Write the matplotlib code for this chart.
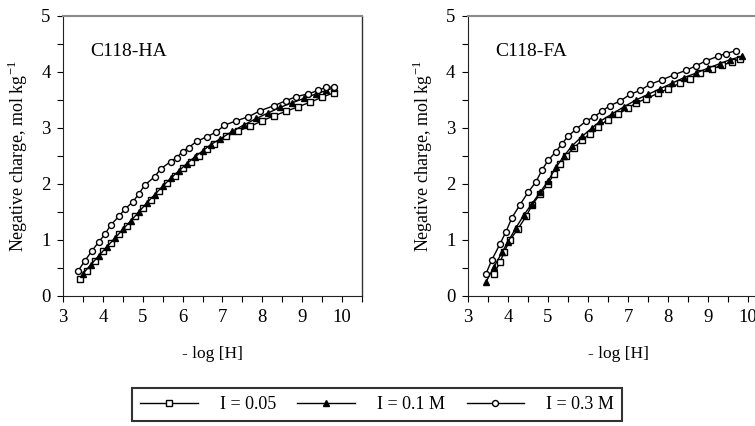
import matplotlib
matplotlib.use("Agg")
import matplotlib.pyplot as plt
from matplotlib.ticker import MultipleLocator
from matplotlib.lines import Line2D

plt.rcParams['font.family'] = ['Liberation Serif', 'DejaVu Serif']
plt.rcParams['mathtext.fontset'] = 'custom'
plt.rcParams['mathtext.rm'] = 'Liberation Serif'

# ---- C118-HA ----
ha_x_005 = [3.42, 3.6, 3.8, 4.0, 4.2, 4.4, 4.6, 4.8, 5.0, 5.2, 5.4, 5.6, 5.8, 6.0, 6.2, 6.4, 6.6, 6.8,
            7.1, 7.4, 7.7, 8.0, 8.3, 8.6, 8.9, 9.2, 9.5, 9.8]
ha_y_005 = [0.30, 0.45, 0.62, 0.80, 0.95, 1.10, 1.25, 1.42, 1.57, 1.72, 1.87, 2.02, 2.15, 2.28, 2.40, 2.50,
            2.62, 2.72, 2.85, 2.95, 3.03, 3.13, 3.22, 3.30, 3.38, 3.46, 3.55, 3.63]
ha_x_01 = [3.5, 3.7, 3.9, 4.1, 4.3, 4.5, 4.7, 4.9, 5.1, 5.3, 5.5, 5.7, 5.9, 6.1, 6.3, 6.5, 6.7, 6.95,
           7.25, 7.55, 7.85, 8.15, 8.45, 8.75, 9.05, 9.35, 9.6, 9.8]
ha_y_01 = [0.40, 0.56, 0.72, 0.88, 1.03, 1.19, 1.34, 1.50, 1.66, 1.81, 1.96, 2.10, 2.23, 2.36, 2.48, 2.59,
           2.70, 2.81, 2.94, 3.06, 3.17, 3.27, 3.37, 3.45, 3.53, 3.61, 3.67, 3.72]
ha_x_03 = [3.38, 3.55, 3.72, 3.9, 4.05, 4.2, 4.4, 4.55, 4.75, 4.9, 5.05, 5.3, 5.45, 5.7, 5.85, 6.0,
           6.15, 6.35, 6.6, 6.85, 7.05, 7.35, 7.65, 7.95, 8.3, 8.6, 8.85, 9.15, 9.4, 9.6, 9.8]
ha_y_03 = [0.45, 0.63, 0.80, 0.97, 1.10, 1.27, 1.42, 1.55, 1.68, 1.82, 1.98, 2.13, 2.27, 2.40, 2.47, 2.58,
           2.65, 2.76, 2.84, 2.93, 3.05, 3.13, 3.20, 3.31, 3.40, 3.49, 3.56, 3.61, 3.67, 3.73, 3.73]

# ---- C118-FA ----
fa_x_005 = [3.65, 3.8, 3.9, 4.05, 4.25, 4.45, 4.6, 4.8, 5.0, 5.15, 5.3, 5.45, 5.65, 5.85, 6.05, 6.25,
            6.5, 6.75, 7.0, 7.2, 7.45, 7.75, 8.0, 8.3, 8.55, 8.8, 9.1, 9.35, 9.6, 9.8]
fa_y_005 = [0.40, 0.60, 0.78, 1.00, 1.20, 1.42, 1.62, 1.82, 2.00, 2.18, 2.35, 2.50, 2.65, 2.78, 2.90, 3.02,
            3.15, 3.25, 3.35, 3.45, 3.52, 3.62, 3.70, 3.80, 3.88, 3.98, 4.06, 4.12, 4.18, 4.24]
fa_x_01 = [3.45, 3.65, 3.85, 4.0, 4.2, 4.4, 4.6, 4.8, 5.0, 5.2, 5.4, 5.6, 5.85, 6.1, 6.3, 6.6, 6.9,
           7.2, 7.5, 7.8, 8.1, 8.4, 8.7, 9.0, 9.3, 9.55, 9.85]
fa_y_01 = [0.25, 0.52, 0.78, 0.97, 1.22, 1.45, 1.65, 1.85, 2.05, 2.30, 2.50, 2.68, 2.85, 3.00, 3.12,
           3.25, 3.38, 3.50, 3.60, 3.70, 3.80, 3.90, 3.98, 4.07, 4.15, 4.22, 4.28]
fa_x_03 = [3.45, 3.6, 3.8, 3.95, 4.1, 4.3, 4.5, 4.7, 4.85, 5.0, 5.2, 5.35, 5.5, 5.7, 5.95, 6.15, 6.35,
           6.55, 6.8, 7.05, 7.3, 7.55, 7.85, 8.15, 8.45, 8.7, 8.95, 9.25, 9.45, 9.7]
fa_y_03 = [0.40, 0.65, 0.93, 1.15, 1.40, 1.63, 1.85, 2.04, 2.25, 2.42, 2.58, 2.72, 2.85, 2.98, 3.12,
           3.20, 3.30, 3.40, 3.48, 3.60, 3.67, 3.78, 3.86, 3.95, 4.03, 4.11, 4.20, 4.28, 4.33, 4.38]

labels = ["I = 0.05", "I = 0.1 M", "I = 0.3 M"]
xticks = [3, 4, 5, 6, 7, 8, 9, 10]
yticks = [0, 1, 2, 3, 4, 5]

W, H = 755, 426
fig = plt.figure(figsize=(W / 100, H / 100), dpi=100)

def px_axes(l, r, t, b):
    return fig.add_axes([l / W, (H - b) / H, (r - l) / W, (b - t) / H])

ax1 = px_axes(63, 362, 16, 296)
ax2 = px_axes(468, 768, 16, 296)

styles = [dict(marker='s', mfc='white', mec='black', ms=4.3, mew=1.0),
          dict(marker='^', mfc='black', mec='black', ms=4.3, mew=1.0),
          dict(marker='o', mfc='white', mec='black', ms=4.3, mew=1.0)]

def panel(ax, series, title):
    for (x, y), st in zip(series, styles):
        ax.plot(x, y, color='black', lw=1.0, **st)
    ax.set_xlim(3, 10.5)
    ax.set_ylim(0, 5)
    ax.set_xticks(xticks)
    ax.set_yticks(yticks)
    ax.xaxis.set_minor_locator(MultipleLocator(0.5))
    ax.yaxis.set_minor_locator(MultipleLocator(0.5))
    ax.tick_params(which='both', direction='out', length=4, width=0.8, labelsize=13.5,
                   top=False, right=False)
    ax.tick_params(which='major', pad=5)
    ax.spines['top'].set_color('#8a8a8a')
    ax.spines['top'].set_linewidth(1.5)
    ax.spines['right'].set_color('#333333')
    ax.spines['right'].set_linewidth(1.0)
    ax.spines['left'].set_color('#222222')
    ax.spines['bottom'].set_color('#222222')
    ax.set_xlabel("- log [H]", fontsize=12.5, labelpad=15)
    ax.set_ylabel("Negative charge, mol kg$^{-1}$", fontsize=13, labelpad=8)
    ax.text(3.68, 4.36, title, fontsize=14, va='center', ha='left')

panel(ax1, [(ha_x_005, ha_y_005), (ha_x_01, ha_y_01), (ha_x_03, ha_y_03)], "C118-HA")
panel(ax2, [(fa_x_005, fa_y_005), (fa_x_01, fa_y_01), (fa_x_03, fa_y_03)], "C118-FA")

handles = [Line2D([], [], color='black', lw=1.0, **st) for st in styles]
lx0, lx1, ly0, ly1 = 132, 622, 386, 423
leg = fig.legend(handles, labels, ncol=3, loc='center',
                 bbox_to_anchor=(lx0 / W, (H - ly1) / H, (lx1 - lx0) / W, (ly1 - ly0) / H),
                 mode='expand', fontsize=13, handlelength=3.2, handletextpad=1.2,
                 columnspacing=2.0, frameon=True, fancybox=False, borderaxespad=0,
                 borderpad=0.45)
leg.get_frame().set_edgecolor('black')
leg.get_frame().set_linewidth(1.5)

fig.savefig("out.png", dpi=100)
